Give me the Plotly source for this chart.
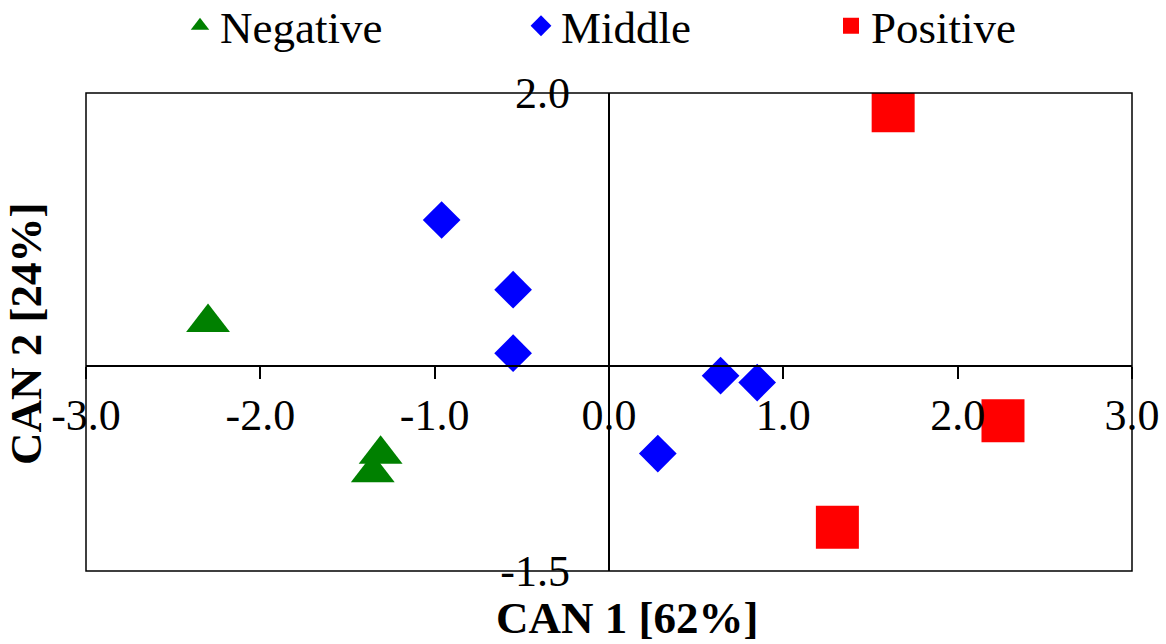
import plotly.graph_objects as go

# ---- data ----
neg_x = [-2.30, -1.31, -1.355]
neg_y = [0.32, -0.645, -0.78]
mid_x = [-0.96, -0.55, -0.55, 0.64, 0.85, 0.28]
mid_y = [1.07, 0.56, 0.095, -0.07, -0.12, -0.64]
pos_x = [1.63, 2.26, 1.31]
pos_y = [1.87, -0.40, -1.18]
x_ticks = [-3, -2, -1, 0, 1, 2, 3]
x_labels = ["-3.0", "-2.0", "-1.0", "0.0", "1.0", "2.0", "3.0"]
y_ticks = [-1.5, 2.0]
y_labels = ["-1.5", "2.0"]

FONT = "Liberation Serif"
W, H = 1166, 644
L, R, T, B = 86, 34, 93, 73
pw = W - L - R
ph = H - T - B

fig = go.Figure()
fig.add_trace(go.Scatter(x=neg_x, y=neg_y, mode="markers", name="Negative",
                         marker=dict(symbol="triangle-up", size=38, color="#008000"),
                         legend="legend"))
fig.add_trace(go.Scatter(x=mid_x, y=mid_y, mode="markers", name="Middle",
                         marker=dict(symbol="diamond", size=29, color="#0000FF"),
                         legend="legend2"))
fig.add_trace(go.Scatter(x=pos_x, y=pos_y, mode="markers", name="Positive",
                         marker=dict(symbol="square", size=43, color="#FF0000"),
                         legend="legend3"))

def lg(px):
    return dict(x=(px - L) / pw, xanchor="left", y=1 + (T - 26) / ph, yanchor="middle",
                font=dict(family=FONT, size=45, color="black"), bgcolor="rgba(0,0,0,0)",
                orientation="h", visible=True)

fig.update_layout(
    width=W, height=H,
    margin=dict(l=L, r=R, t=T, b=B, autoexpand=False),
    paper_bgcolor="white", plot_bgcolor="white",
    font=dict(family=FONT, color="black"),
    showlegend=True,
    legend=lg(180),
    legend2=lg(521),
    legend3=lg(831),
    xaxis=dict(range=[-3, 3], anchor="free", position=1.5 / 3.5, automargin=False,
               tickvals=x_ticks, ticktext=x_labels,
               ticks="outside", ticklen=12, tickwidth=1.5, tickcolor="black",
               showline=True, linecolor="black", linewidth=1.5,
               showgrid=False, zeroline=True, zerolinecolor="black", zerolinewidth=1.5,
               tickfont=dict(family=FONT, size=44, color="black"),
               ticklabelstandoff=-2),
    yaxis=dict(range=[-1.5, 2.0], anchor="free", position=0.5, automargin=False,
               tickvals=y_ticks, ticktext=y_labels, ticks="",
               showline=False, showgrid=False, zeroline=False,
               tickfont=dict(family=FONT, size=44, color="black"),
               ticklabelstandoff=39),
    shapes=[dict(type="rect", xref="paper", yref="paper", x0=0, x1=1, y0=0, y1=1,
                 line=dict(color="black", width=1.5), layer="above")],
    annotations=[
        dict(text="<b>CAN 1 [62%]</b>", xref="paper", yref="paper",
             x=(627 - L) / pw, y=-(618 - (T + ph)) / ph, xanchor="center", yanchor="middle",
             showarrow=False, font=dict(family=FONT, size=45, color="black")),
        dict(text="<b>CAN 2 [24%]</b>", xref="paper", yref="paper",
             x=(26 - L) / pw, y=1 - (334 - T) / ph, xanchor="center", yanchor="middle",
             textangle=-90, showarrow=False, font=dict(family=FONT, size=45, color="black")),
    ],
)

fig.write_html("out.html")
